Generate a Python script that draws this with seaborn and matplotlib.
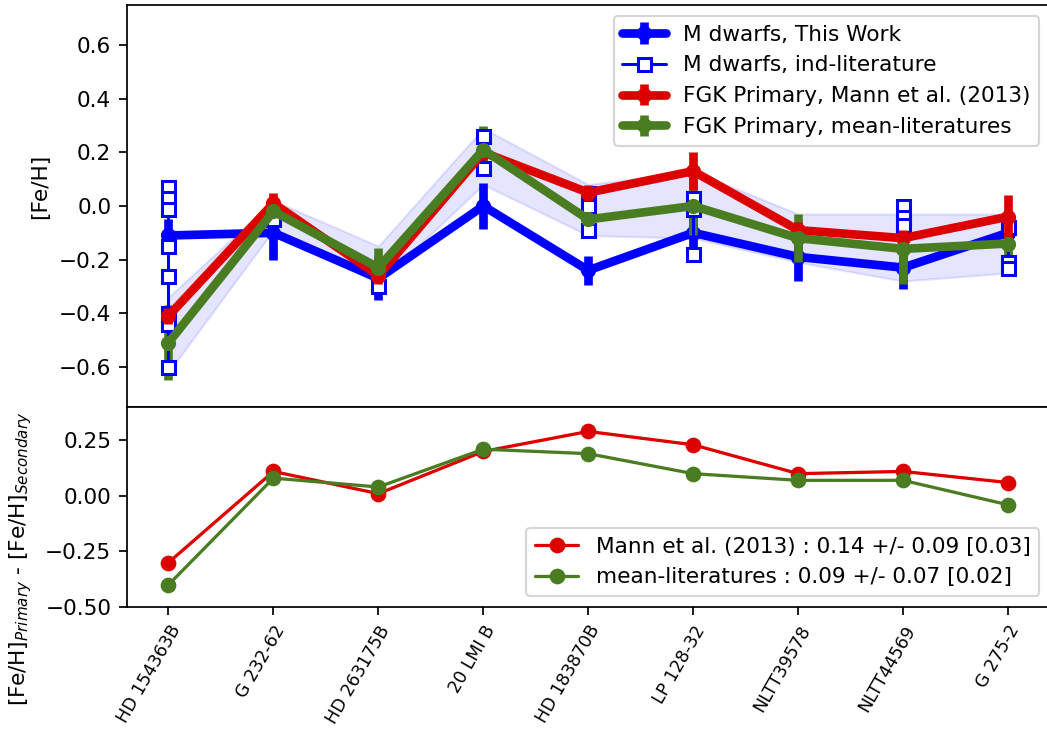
import numpy as np
import matplotlib
matplotlib.use("Agg")
import matplotlib.pyplot as plt
import seaborn as sns

# ---- data -------------------------------------------------------------
stars = ["HD 154363B", "G 232-62", "HD 263175B", "20 LMI B", "HD 183870B",
         "LP 128-32", "NLTT39578", "NLTT44569", "G 275-2"]

# [Fe/H] of the M-dwarf secondaries derived here
feh_this_work = [-0.11, -0.10, -0.27, 0.00, -0.24, -0.10, -0.19, -0.23, -0.10]
err_this_work = [0.06, 0.10, 0.08, 0.085, 0.055, 0.06, 0.09, 0.08, 0.05]

# individual literature values for the M dwarfs
lit_feh = [
    [0.07, 0.03, -0.01, -0.15, -0.26, -0.40, -0.44, -0.60],
    [-0.05],
    [-0.30],
    [0.26, 0.14],
    [0.05, 0.00, -0.09],
    [0.03, -0.01, -0.18],
    [],
    [0.00, -0.04, -0.07],
    [-0.08, -0.21, -0.23],
]
# spread of the literature values
lit_low = [-0.62, -0.09, -0.29, 0.08, -0.11, -0.12, -0.21, -0.28, -0.25]
lit_high = [-0.34, 0.02, -0.15, 0.29, 0.08, 0.13, -0.03, -0.03, -0.03]

# FGK primaries
feh_mann = [-0.41, 0.01, -0.26, 0.20, 0.05, 0.13, -0.09, -0.12, -0.04]
err_mann = [0.03, 0.04, 0.03, 0.03, 0.03, 0.07, 0.03, 0.03, 0.08]
feh_meanlit = [-0.51, -0.02, -0.23, 0.21, -0.05, 0.00, -0.12, -0.16, -0.14]
err_meanlit = [0.14, 0.05, 0.075, 0.09, 0.05, 0.11, 0.09, 0.13, 0.08]

label_mann = "Mann et al. (2013) : 0.14 +/- 0.09 [0.03]"
label_meanlit = "mean-literatures : 0.09 +/- 0.07 [0.02]"

# ---- style ------------------------------------------------------------
sns.set_style("ticks", {"axes.edgecolor": "black", "xtick.color": "black",
                        "ytick.color": "black", "text.color": "black",
                        "axes.labelcolor": "black"})
plt.rcParams.update({
    "font.size": 10,
    "axes.linewidth": 0.8,
    "xtick.major.size": 3.5, "ytick.major.size": 3.5,
    "xtick.major.width": 0.8, "ytick.major.width": 0.8,
    "legend.fontsize": 10,
})
plt.rcParams["font.family"] = ["DejaVu Sans"]

c_blue = "#0000ff"
c_red = "#dd0000"
c_green = "#4a7d22"

W, H, DPI = 1047, 734, 156
fig = plt.figure(figsize=(W / DPI, H / DPI), dpi=DPI)
x0, x1 = 126.5, 1050
ax1 = fig.add_axes([x0 / W, (H - 407) / H, (x1 - x0) / W, 402 / H])
ax2 = fig.add_axes([x0 / W, (H - 607) / H, (x1 - x0) / W, 200 / H], sharex=ax1)

x = np.arange(len(stars))

# ---- top panel: metallicities ----------------------------------------
ax1.fill_between(x, lit_low, lit_high, color="blue", alpha=0.1, lw=1, zorder=1)

h_this = ax1.errorbar(x, feh_this_work, yerr=err_this_work, color=c_blue,
                      lw=4, elinewidth=4, marker="o", ms=6, capsize=0,
                      zorder=2, label="M dwarfs, This Work")

h_lit = None
for i, vals in enumerate(lit_feh):
    if not vals:
        continue
    ln, = ax1.plot([x[i]] * len(vals), vals, "s-", color=c_blue,
                   mfc="white", mec=c_blue, ms=6, mew=1.4, lw=1.4, zorder=3,
                   label="M dwarfs, ind-literature")
    if h_lit is None:
        h_lit = ln

h_mann = ax1.errorbar(x, feh_mann, yerr=err_mann, color=c_red, lw=4,
                      elinewidth=4, marker="o", ms=6, capsize=0, zorder=4,
                      label="FGK Primary, Mann et al. (2013)")
h_mean = ax1.errorbar(x, feh_meanlit, yerr=err_meanlit, color=c_green, lw=4,
                      elinewidth=4, marker="o", ms=6, capsize=0, zorder=5,
                      label="FGK Primary, mean-literatures")
for col in h_mean[2]:
    col.set_zorder(2.5)

ax1.legend(handles=[h_this, h_lit, h_mann, h_mean], loc="upper right")
ax1.set_ylim(-0.75, 0.75)
ax1.set_yticks([-0.6, -0.4, -0.2, 0.0, 0.2, 0.4, 0.6])
ax1.set_ylabel("[Fe/H]")
ax1.yaxis.set_label_coords(-0.083, 0.55)
ax1.tick_params(axis="x", bottom=False, labelbottom=False)

# ---- bottom panel: primary minus secondary ----------------------------
diff_mann = np.array(feh_mann) - np.array(feh_this_work)
diff_meanlit = np.array(feh_meanlit) - np.array(feh_this_work)

sns.lineplot(x=x, y=diff_mann, ax=ax2, color=c_red, marker="o",
             markersize=6.5, mec=c_red, lw=1.5, label=label_mann)
sns.lineplot(x=x, y=diff_meanlit, ax=ax2, color=c_green, marker="o",
             markersize=6.5, mec=c_green, lw=1.5, label=label_meanlit)

ax2.legend(loc="lower right")
ax2.set_ylim(-0.5, 0.4)
ax2.set_yticks([-0.5, -0.25, 0.0, 0.25])
ax2.set_ylabel("[Fe/H]$_{Primary}$ - [Fe/H]$_{Secondary}$")
ax2.yaxis.set_label_coords(-0.100, 0.24)
ax2.set_xlim(-0.4, 8.4)
ax2.set_xticks(x)
ax2.set_xticklabels(stars, rotation=60, ha="right", rotation_mode="anchor",
                    fontsize=8)

fig.savefig("out.png", dpi=DPI)
